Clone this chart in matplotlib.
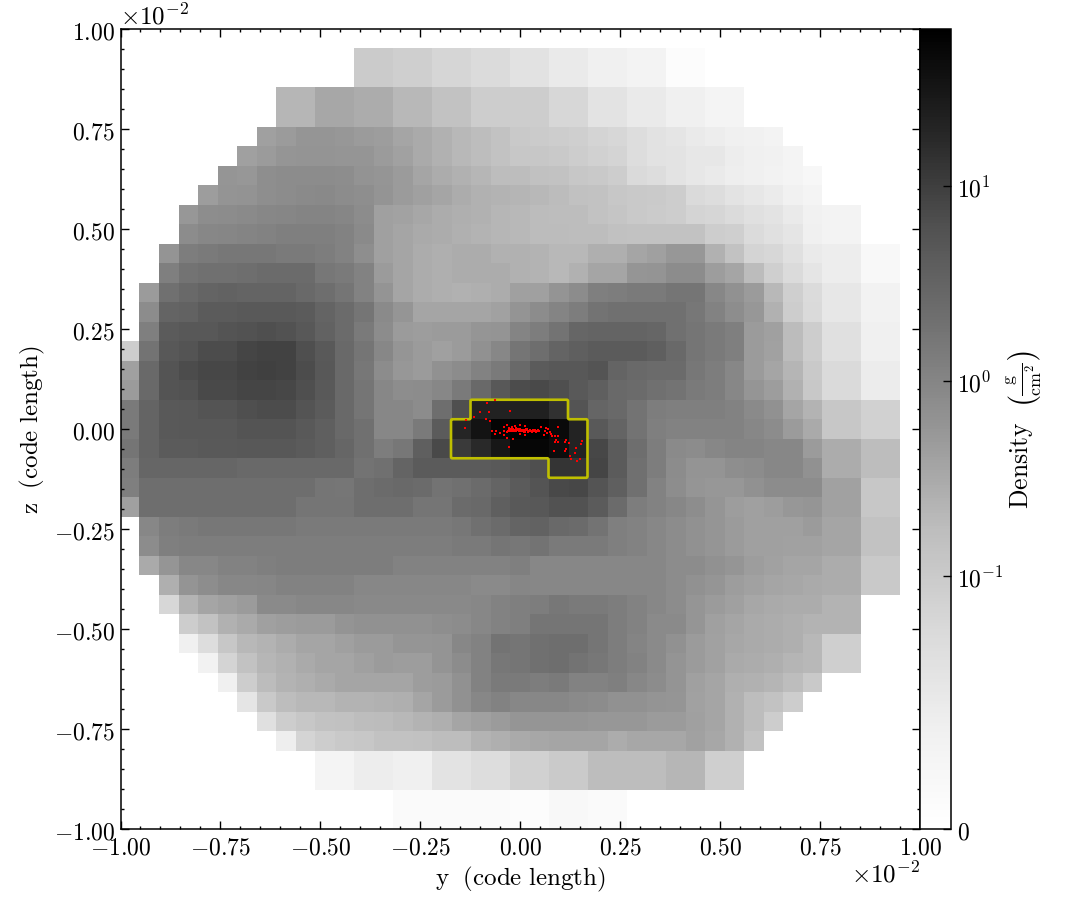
import numpy as np
import matplotlib
matplotlib.use('Agg')
import matplotlib.pyplot as plt
from matplotlib.colors import SymLogNorm
from matplotlib.ticker import MultipleLocator, NullLocator

plt.rcParams['mathtext.fontset'] = 'cm'

# projected density per cell, top row first (0 = nothing drawn)
row_00 = []
row_01 = [0]*12 + [.095,.095,.078,.078,.062,.062,.047,.047,.034,.034,.022,.022,.016,.016,.013,.013,.0035,.0035]
row_02 = row_01
row_03 = [0]*8 + [.21,.21,.33,.33,.29,.29,.20,.20,.135,.135,.089,.089,.089,.089,.057,.057,.031,.031,.022,.022,.016,.016,.012,.012]
row_04 = row_03
row_05 = [0]*7 + [.42,.48,.57,.57,.53,.48,.45,.36,.31,.25,.20,.17,.135,.104,.095,.089,.078,.065,.057,.042,.034,.028,.022,.019,.016,.015,.013]
row_06 = [0]*6 + [.42,.48,.57,.61,.61,.57,.57,.48,.40,.31,.25,.20,.17,.135,.115,.115,.104,.089,.072,.065,.042,.034,.031,.025,.025,.019,.016,.015,.012]
row_07 = [0]*5 + [.57,.53,.71,.79,.79,.79,.75,.63,.57,.48,.36,.29,.25,.21,.17,.17,.15,.135,.115,.104,.089,.050,.042,.031,.025,.022,.018,.016,.014,.012,.009]
row_08 = [0]*4 + [.45,.61,.63,.71,.79,.85,.88,.79,.71,.61,.48,.42,.36,.29,.25,.23,.22,.20,.18,.15,.135,.115,.104,.097,.089,.05,.042,.031,.025,.021,.015,.012]
row_09 = [0]*3 + [.53,.75,.79,.85,.93,.98,1.0,1.0,.98,.79,.42,.39,.33,.29,.27,.25,.21,.20,.18,.17,.17,.135,.125,.104,.095,.089,.065,.062,.047,.036,.031,.022,.015,.013,.013]
row_10 = [0]*3 + [.79,.93,.98,1.0,1.1,1.2,1.2,1.2,1.1,.85,.42,.36,.31,.29,.26,.23,.21,.20,.18,.18,.17,.17,.15,.135,.135,.135,.135,.089,.078,.047,.038,.028,.016,.013,.013]
row_11 = [0]*2 + [.61,1.3,1.45,1.57,1.57,1.57,1.45,1.45,1.3,1.1,.71,.42,.36,.29,.27,.29,.29,.25,.25,.23,.20,.20,.27,.27,.36,.42,.53,.53,.25,.135,.065,.057,.036,.022,.019,.019,.008,.008]
row_12 = [0]*2 + [1.2,1.85,2.05,2.05,2.2,2.4,2.4,2.4,1.57,1.45,1.1,.48,.36,.29,.27,.29,.29,.29,.25,.23,.20,.25,.36,.36,.57,.61,.79,.79,.45,.36,.18,.078,.047,.028,.019,.019,.008,.008]
row_13 = [0] + [.48,2.05,2.6,3.1,3.3,3.1,3.1,3.1,2.6,2.2,1.7,1.1,.61,.36,.29,.27,.25,.27,.29,.42,.42,.61,.79,1.2,1.3,1.45,1.45,1.7,1.7,.93,.67,.48,.20,.078,.047,.025,.025,.014,.014]
row_14 = [0] + [.79,3.1,3.3,4.2,4.2,4.5,4.5,4.5,4.2,3.1,2.4,1.7,.85,.57,.36,.36,.36,.36,.40,.61,.79,1.0,1.3,1.85,2.05,2.05,2.05,2.05,1.57,1.1,.75,.53,.25,.089,.05,.025,.025,.014,.014]
row_15 = [0] + [1.2,4.2,4.8,4.8,5.4,6.0,6.3,6.0,4.8,3.3,2.4,1.45,.79,.48,.45,.48,.48,.57,.61,1.0,1.3,1.85,2.8,3.1,3.1,3.1,2.8,2.05,1.7,1.45,1.2,.48,.42,.18,.089,.038,.038,.016,.016]
row_16 = [.089,1.85,4.8,5.4,6.9,6.9,8.3,9.0,9.0,6.3,4.5,2.6,1.7,.93,.57,.48,.42,.48,.67,.93,1.7,2.2,3.1,3.7,4.2,4.2,4.2,3.7,2.6,1.7,1.45,1.2,.48,.40,.18,.089,.036,.036,.016,.016]
row_17 = [.42,2.6,5.4,6.9,7.9,7.9,9.0,9.5,9.0,6.9,4.8,2.6,1.57,.79,.53,.48,.67,.79,1.1,1.45,2.6,4.2,4.8,4.8,5.4,3.1,2.6,2.4,2.4,1.57,1.3,.93,.48,.36,.22,.104,.05,.05,.02,.02]
row_18 = [.48,2.6,5.4,6.0,7.4,7.4,8.3,8.3,7.9,6.3,4.5,2.6,1.7,.93,.75,.79,.93,1.45,2.6,4.8,6.9,7.4,6.3,4.5,3.7,2.6,2.4,2.05,1.85,1.45,1.3,.93,.57,.45,.25,.11,.05,.05,.02,.02]
row_19 = [1.45,3.1,4.5,4.8,5.4,5.4,6.3,6.9,6.9,5.4,4.2,2.6,1.7,.93,.93,.79,2.2,6.3,21,21,22,22,14,5.4,2.9,2.6,1.85,1.3,1.2,1.2,1.2,1.1,.85,.67,.36,.23,.115,.115,.072,.072]
row_20 = [1.45,3.1,4.5,4.8,4.8,4.8,5.4,5.4,5.4,4.5,3.7,2.6,2.05,.93,.93,1.45,4.2,19,33,55,64,62,45,20,4.5,3.1,1.85,1.2,1.1,1.1,1.1,1.1,.93,.79,.48,.31,.115,.115,.072,.072]
row_21 = [1.7,3.1,4.2,4.2,4.5,4.5,4.8,4.8,4.8,4.2,3.7,2.8,2.05,1.3,1.57,3.7,7.5,11,17,30,50,50,40,20,7.9,4.2,2.2,1.3,.85,.79,.93,1.0,1.0,.93,.93,.48,.29,.29,.17,.17]
row_22 = [1.3,2.8,2.8,2.8,2.8,2.8,2.6,2.6,2.6,2.6,2.6,2.6,1.85,2.05,3.1,4.2,4.2,4.2,4.2,4.5,5.4,6.3,13,13,8.3,4.2,2.05,1.3,.79,.61,.61,.71,.79,.93,.93,.67,.29,.29,.17,.17]
row_23 = [1.2,2.2,2.2,2.2,2.2,2.2,2.2,2.2,2.2,2.2,1.7,1.6,2.2,2.4,2.6,2.4,1.85,2.05,2.4,3.1,4.2,5.4,7.4,7.9,5.4,3.7,2.05,1.1,.75,.57,.53,.53,.67,.79,.79,.79,.40,.40,.115,.115]
row_24 = [.42,2.2,2.2,2.2,2.2,2.2,2.2,2.2,2.2,1.7,1.7,1.7,2.2,2.2,2.2,1.7,1.7,2.4,2.6,3.7,4.5,4.8,6.0,6.0,4.2,2.4,1.3,1.1,.93,.75,.57,.45,.42,.45,.53,.57,.40,.40,.115,.115]
row_25 = [0] + [.93,1.3,1.45,1.57,1.57,1.57,1.57,1.57,1.45,1.45,1.45,1.45,1.45,1.45,1.45,1.45,1.57,2.05,2.4,3.1,3.3,2.6,2.4,1.85,1.2,1.1,.93,.79,.67,.57,.48,.42,.42,.42,.48,.36,.36,.135,.135]
row_26 = [0] + [.79,1.2,1.3,1.3,1.3,1.3,1.3,1.3,1.3,1.3,1.3,1.3,1.3,1.3,1.3,1.3,1.45,1.45,1.7,1.57,1.85,1.45,1.45,1.45,1.2,1.1,.93,.79,.67,.57,.48,.42,.42,.40,.40,.36,.36,.135,.135]
row_27 = [0] + [.31,.57,.93,.93,1.1,1.1,1.2,1.3,1.3,1.3,1.3,1.3,1.3,1.1,1.1,1.1,1.1,1.1,1.1,1.2,.93,.93,.93,.93,.93,.93,.93,.79,.79,.67,.57,.45,.40,.36,.36,.29,.29,.104,.104]
row_28 = [0]*2 + [.27,.61,.75,.93,.93,.98,1.1,1.1,1.1,1.1,.93,.93,.93,.93,.93,.93,.85,.85,.98,.93,.93,.93,.93,.93,.93,.93,.79,.67,.57,.45,.40,.36,.33,.31,.29,.29,.104,.104]
row_29 = [0]*2 + [.057,.23,.36,.42,.48,.85,.85,.93,.93,.93,.88,.88,.88,.88,.88,.88,.93,1.1,1.2,1.3,1.57,1.45,1.45,1.3,1.1,.93,.79,.57,.48,.42,.33,.31,.29,.29,.23,.23]
row_30 = [0]*3 + [.089,.135,.25,.31,.42,.45,.48,.48,.61,.67,.67,.67,.67,.71,.79,.93,1.1,1.2,1.7,1.7,1.7,1.7,1.3,1.1,.85,.85,.57,.42,.36,.31,.29,.27,.23,.23,.23]
row_31 = [0]*3 + [.016,.042,.115,.20,.23,.29,.36,.36,.42,.48,.48,.57,.57,.61,.93,1.1,1.85,1.7,2.05,2.2,2.2,1.7,1.3,1.0,.85,.67,.48,.40,.33,.31,.29,.27,.20,.078,.078]
row_32 = [0]*4 + [.014,.065,.135,.21,.25,.31,.36,.36,.42,.48,.45,.45,.61,.79,1.1,1.57,1.7,2.05,2.2,1.85,1.57,1.3,1.1,.85,.61,.48,.40,.31,.29,.27,.22,.20,.078,.078]
row_33 = [0]*5 + [.016,.089,.18,.23,.27,.31,.36,.36,.36,.36,.45,.48,.67,1.1,1.45,1.45,1.3,1.45,1.1,1.1,1.2,.93,.79,.61,.42,.36,.27,.25,.22,.17,.104]
row_34 = [0]*6 + [.028,.104,.17,.20,.20,.23,.23,.25,.27,.36,.48,.67,.93,1.1,.93,.93,.93,.85,.79,.67,.67,.61,.57,.40,.36,.25,.17,.135,.089]
row_35 = [0]*7 + [.036,.089,.115,.135,.15,.17,.18,.20,.23,.27,.36,.42,.48,.57,.57,.57,.57,.53,.53,.53,.48,.48,.42,.36,.25,.17,.089]
row_36 = [0]*8 + [.018,.065,.089,.104,.115,.135,.135,.15,.17,.17,.23,.27,.31,.33,.36,.36,.36,.29,.33,.33,.33,.40,.33,.25,.135]
row_37 = [0]*10 + [.012,.012,.019,.019,.016,.016,.031,.031,.042,.042,.072,.072,.097,.097,.17,.17,.17,.17,.21,.21,.078,.078]
row_38 = row_37
row_39 = [0]*14 + [.005,.005,.005,.005,.005,.005,.0034,.0034,.0075,.0075,.0057,.0057]
row_40 = row_39

# particle positions (y, z), in units of 1e-2
part_y = [-.0842,-.0625,-.1017,-.0783,-.0258,-.1158,-.085,-.075,-.1358,-.1375,.0933,.0525,-.0008,-.0333,.0108,-.0133,
          -.0217,-.04,-.0292,-.0175,-.0092,-.0008,.0075,.0158,.0242,.0325,.0408,.0475,-.0717,-.0608,-.0508,-.04,-.0342,
          -.0258,-.0633,-.0017,.0108,-.04,-.0342,-.0192,-.0292,.0642,.07,.0617,.0658,.0742,.0775,.06,.0867,.0933,.08,
          .0892,.0875,.0933,.1142,.1125,.1225,.1542,.1517,.1383,.1133,.1108,.085,.1375,.125,.1258,.15,.1408,
          -.0258,-.0217,-.0158,-.0108,-.005,.0033,.0117,.02,.0283,.0367,-.0175,-.03,-.0133,-.0025,.0058,.0142,.0225,.0308,.0392,.045,
          -.028,-.024,-.02,-.016,-.012,-.008,-.004,0,.004,.008,.012,.016,.02,.024,.028,.032,.036,.04,-.02,-.01,0,.01,.02,.03]
part_z = [.0658,.0717,.0417,.0433,.0442,.0292,.0242,.02,.0225,.0017,.0042,.005,.01,.0092,.0075,.0083,
          .0058,.0042,.0017,0,-.0025,-.0017,-.0042,-.0025,-.0017,-.0042,-.0042,-.005,-.0058,-.0058,-.0092,-.0058,-.0083,
          -.0042,-.0125,-.0125,-.0158,-.015,-.0225,-.025,-.0458,.0017,0,-.0058,-.0108,-.0083,-.0125,-.0142,-.0167,-.0183,-.0183,
          -.0267,-.0317,-.0333,-.0267,-.0333,-.0358,-.0308,-.0375,-.0475,-.05,-.0558,-.0558,-.06,-.0683,-.0758,-.0758,-.0808,
          -.0017,-.0058,-.0042,-.0058,0,-.0058,-.0067,-.0058,-.0058,-.0025,-.0058,-.0042,-.0017,-.0058,-.0017,0,-.0042,-.0017,-.0067,-.0025,
          -.003,-.001,-.004,-.002,-.005,-.003,-.001,-.004,-.002,-.005,-.003,-.001,-.004,-.002,-.005,-.003,-.004,-.005,.002,.003,.001,-.008,-.008,-.007]

ticks_main = [-1, -.75, -.5, -.25, 0, .25, .5, .75, 1]
tick_labels_main = ['-1.00', '-0.75', '-0.50', '-0.25', '0.00', '0.25', '0.50', '0.75', '1.00']
cbar_ticks = [0, .1, 1, 10]
cbar_labels = ['0', '10^{-1}', '10^{0}', '10^{1}']

rows = [globals()['row_%02d' % i] for i in range(41)]
density = np.array([r + [0]*(41 - len(r)) for r in rows], dtype=float)

W, H = 1085, 920
fig = plt.figure(figsize=(W/100, H/100), dpi=100)
ax = fig.add_axes([120.5/W, 1 - 830/H, 799.5/W, 800/H])
cax = fig.add_axes([920/W, 1 - 830/H, 30.5/W, 800/H])

norm = SymLogNorm(linthresh=.01, linscale=.267, vmin=0, vmax=64, base=10)
grid_extent = (-1.0025, .9975, -1, 1)
im = ax.imshow(density, extent=grid_extent, cmap='Greys', norm=norm,
               interpolation='nearest', aspect='auto')

# outline of the dense clump
mask = np.kron((density >= 10).astype(float), np.ones((12, 12)))
ax.contour(mask, levels=[.5], colors='y', linewidths=1.9, origin='upper', extent=grid_extent)

ax.scatter(part_y, part_z, s=1.6, c='red', marker='s', linewidths=0, zorder=5)

ax.set_xlim(-1, 1)
ax.set_ylim(-1, 1)
ax.set_xticks(ticks_main)
ax.set_yticks(ticks_main)
labels = ['$\\mathrm{%s}$' % s for s in tick_labels_main]
ax.set_xticklabels(labels, fontsize=17)
ax.set_yticklabels(labels, fontsize=17)
ax.xaxis.set_minor_locator(MultipleLocator(.05))
ax.yaxis.set_minor_locator(MultipleLocator(.05))
ax.tick_params(which='both', direction='in', top=True, right=True, width=1)
ax.tick_params(which='major', length=5.5, pad=4)
ax.tick_params(which='minor', length=2.5)
for s in ax.spines.values():
    s.set_linewidth(1.1)

ax.set_xlabel(r'$\mathrm{y\ \ (code\ length)}$', fontsize=18, labelpad=3.5)
ax.set_ylabel(r'$\mathrm{z\ \ (code\ length)}$', fontsize=18, labelpad=4.5)
ax.text(0, 1.001, r'$\times 10^{-2}$', transform=ax.transAxes, fontsize=18, ha='left', va='bottom')
ax.text(1, -.04, r'$\times 10^{-2}$', transform=ax.transAxes, fontsize=18, ha='right', va='top')

cbar = fig.colorbar(im, cax=cax)
cbar.set_ticks(cbar_ticks)
cbar.set_ticklabels(['$\\mathrm{%s}$' % s for s in cbar_labels], fontsize=17)
cbar.ax.yaxis.set_minor_locator(NullLocator())
cbar.ax.tick_params(which='major', direction='in', length=5.5, width=1, pad=5)
cbar.outline.set_linewidth(1.1)
cbar.set_label(r'$\mathrm{Density}\ \ \left(\frac{\mathrm{g}}{\mathrm{cm}^{2}}\right)$', fontsize=18.5, labelpad=0)

fig.savefig('out.png', dpi=100)
